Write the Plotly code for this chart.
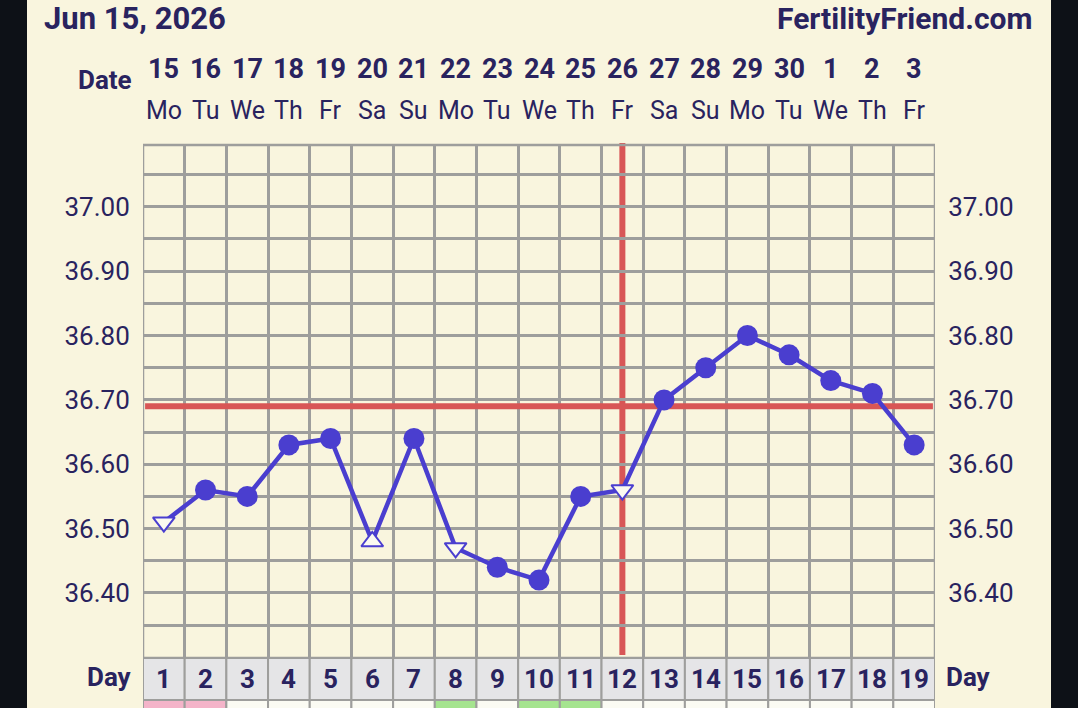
import plotly.graph_objects as go

# ---------------- data ----------------
days = list(range(1, 20))
dates = ["15", "16", "17", "18", "19", "20", "21", "22", "23", "24", "25", "26",
         "27", "28", "29", "30", "1", "2", "3"]
weekdays = ["Mo", "Tu", "We", "Th", "Fr", "Sa", "Su", "Mo", "Tu", "We", "Th", "Fr",
            "Sa", "Su", "Mo", "Tu", "We", "Th", "Fr"]
temps = [36.51, 36.56, 36.55, 36.63, 36.64, 36.48, 36.64, 36.47, 36.44, 36.42,
         36.55, 36.56, 36.70, 36.75, 36.80, 36.77, 36.73, 36.71, 36.63]
# marker type per day: "c" = circle, "d" = open triangle down, "u" = open triangle up
marker_types = ["d", "c", "c", "c", "c", "u", "c", "d", "c", "c",
                "c", "d", "c", "c", "c", "c", "c", "c", "c"]
# bottom row colour code: "p" = pink, "g" = green, "w" = blank
bottom_codes = ["p", "p", "w", "w", "w", "w", "w", "g", "w", "g",
                "g", "w", "w", "w", "w", "w", "w", "w", "w"]
coverline = 36.69
ovulation_day = 12
y_tick_vals = [36.30, 36.35, 36.40, 36.45, 36.50, 36.55, 36.60, 36.65, 36.70,
               36.75, 36.80, 36.85, 36.90, 36.95, 37.00, 37.05]
y_labelled = [36.40, 36.50, 36.60, 36.70, 36.80, 36.90, 37.00]
title_text = "Jun 15, 2026"
brand_text = "FertilityFriend.com"

# ---------------- style ----------------
W, H = 1078, 708
L, R, T, B = 143, 935, 145, 658
CREAM = "#f9f5de"
NAVY = "#29235f"
PURPLE = "#4a3ecf"
RED = "#d85656"
GRID = "#9e9e9c"
CELL = "#e5e5e7"
DARK = "#0d1117"
BOTTOM_COL = {"p": "#f4b4c9", "g": "#a5e48f", "w": "#fbfbf3"}
FONT = "Roboto"


def px_x(px):
    return (px - L) / (R - L)


def px_y(py):
    return (B - py) / (B - T)


fig = go.Figure()

# temperature line
fig.add_trace(go.Scatter(x=days, y=temps, mode="lines",
                         line=dict(color=PURPLE, width=4.5),
                         hoverinfo="skip", showlegend=False))

sym_map = {"c": "circle", "d": "triangle-down", "u": "triangle-up"}
for code in ["c", "d", "u"]:
    xs = [d for d, m in zip(days, marker_types) if m == code]
    ys = [t for t, m in zip(temps, marker_types) if m == code]
    if code == "c":
        marker = dict(symbol="circle", size=21, color=PURPLE,
                      line=dict(color=PURPLE, width=0))
    else:
        marker = dict(symbol=sym_map[code], size=19, color="#fbfaf0",
                      line=dict(color=PURPLE, width=2))
    fig.add_trace(go.Scatter(x=xs, y=ys, mode="markers", marker=marker,
                             hoverinfo="skip", showlegend=False))

# invisible trace for right axis
fig.add_trace(go.Scatter(x=[days[0]], y=[temps[0]], yaxis="y2", mode="markers",
                         marker=dict(opacity=0), hoverinfo="skip", showlegend=False))

shapes = []
# dark frame edges
shapes.append(dict(type="rect", xref="paper", yref="paper",
                   x0=px_x(-5), x1=px_x(27), y0=px_y(720), y1=px_y(-10),
                   fillcolor=DARK, line=dict(width=0), layer="above"))
shapes.append(dict(type="rect", xref="paper", yref="paper",
                   x0=px_x(1051), x1=px_x(1085), y0=px_y(720), y1=px_y(-10),
                   fillcolor=DARK, line=dict(width=0), layer="above"))

# coverline and ovulation line
shapes.append(dict(type="line", xref="x", yref="y", x0=0.55, x1=19.45,
                   y0=coverline, y1=coverline, line=dict(color=RED, width=6),
                   layer="between"))
shapes.append(dict(type="line", xref="x", yref="paper", x0=ovulation_day, x1=ovulation_day,
                   y0=px_y(655), y1=px_y(143), line=dict(color=RED, width=6),
                   layer="between"))

# grid border
shapes.append(dict(type="rect", xref="x", yref="paper", x0=0.5, x1=19.5,
                   y0=0, y1=1, line=dict(color=GRID, width=2.5), layer="below"))

# day row cells and bottom colored row
for d, code in zip(days, bottom_codes):
    shapes.append(dict(type="rect", xref="x", yref="paper", x0=d - 0.5, x1=d + 0.5,
                       y0=px_y(700), y1=px_y(658), fillcolor=CELL,
                       line=dict(color=GRID, width=2), layer="above"))
    shapes.append(dict(type="rect", xref="x", yref="paper", x0=d - 0.5, x1=d + 0.5,
                       y0=px_y(715), y1=px_y(700), fillcolor=BOTTOM_COL[code],
                       line=dict(color=GRID, width=2), layer="above"))

annotations = []
annotations.append(dict(text=f"<b>{title_text}</b>", xref="paper", yref="paper",
                        x=px_x(42), y=px_y(18), xanchor="left", yanchor="middle",
                        showarrow=False, font=dict(family=FONT, size=31, color=NAVY)))
annotations.append(dict(text=f"<b>{brand_text}</b>", xref="paper", yref="paper",
                        x=px_x(1034), y=px_y(18), xanchor="right", yanchor="middle",
                        showarrow=False, font=dict(family=FONT, size=30, color=NAVY)))
annotations.append(dict(text="<b>Date</b>", xref="paper", yref="paper",
                        x=px_x(134), y=px_y(80), xanchor="right", yanchor="middle",
                        showarrow=False, font=dict(family=FONT, size=26, color=NAVY)))
for d, dt, wd in zip(days, dates, weekdays):
    annotations.append(dict(text=f"<b>{dt}</b>", xref="x", yref="paper",
                            x=d, y=px_y(69), xanchor="center", yanchor="middle",
                            showarrow=False, font=dict(family=FONT, size=27, color=NAVY)))
    annotations.append(dict(text=wd, xref="x", yref="paper",
                            x=d, y=px_y(110), xanchor="center", yanchor="middle",
                            showarrow=False, font=dict(family=FONT, size=25, color=NAVY)))
    annotations.append(dict(text=f"<b>{d}</b>", xref="x", yref="paper",
                            x=d, y=px_y(679), xanchor="center", yanchor="middle",
                            showarrow=False, font=dict(family=FONT, size=26, color=NAVY)))
annotations.append(dict(text="<b>Day</b>", xref="paper", yref="paper",
                        x=px_x(134), y=px_y(677), xanchor="right", yanchor="middle",
                        showarrow=False, font=dict(family=FONT, size=26, color=NAVY)))
annotations.append(dict(text="<b>Day</b>", xref="paper", yref="paper",
                        x=px_x(944), y=px_y(677), xanchor="left", yanchor="middle",
                        showarrow=False, font=dict(family=FONT, size=26, color=NAVY)))

tick_text = [f"{v:.2f}" if any(abs(v - u) < 1e-9 for u in y_labelled) else "" for v in y_tick_vals]
y_range = [36.299, 37.096]
yaxis_common = dict(range=y_range, tickmode="array", tickvals=y_tick_vals, ticktext=tick_text,
                    ticks="outside", ticklen=7, tickcolor=CREAM,
                    tickfont=dict(family=FONT, size=26, color=NAVY),
                    zeroline=False, fixedrange=True)

fig.update_layout(
    width=W, height=H,
    margin=dict(l=L, r=W - R, t=T, b=H - B, pad=0),
    paper_bgcolor=CREAM, plot_bgcolor=CREAM,
    showlegend=False,
    xaxis=dict(range=[0.5, 19.5], tickmode="linear", tick0=0.5, dtick=1,
               showticklabels=False, showgrid=True, gridcolor=GRID, gridwidth=2.5,
               zeroline=False, ticks="", fixedrange=True),
    yaxis=dict(**yaxis_common, side="left", showgrid=True, gridcolor=GRID, gridwidth=2.5),
    yaxis2=dict(**yaxis_common, side="right", overlaying="y", showgrid=False),
    shapes=shapes,
    annotations=annotations,
)

fig.write_html("out.html")
